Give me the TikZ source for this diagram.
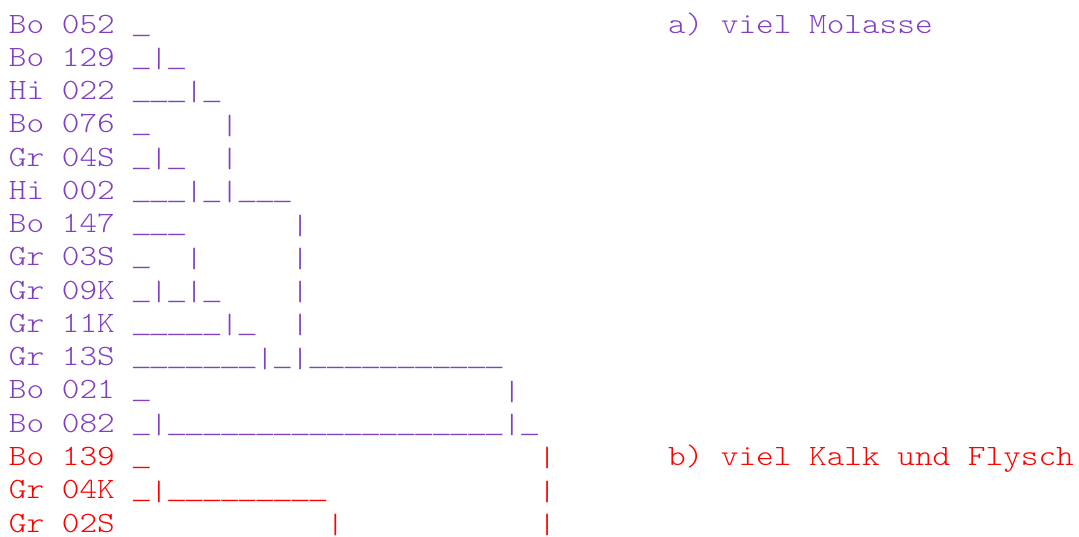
\documentclass[tikz,border=0pt]{standalone}
\usepackage{fontspec}
\usepackage{graphicx}
\newfontfamily\typew[FakeStretch=1.141]{lmmonolt10-regular.otf}
\newfontfamily\linefont{Liberation Mono}
% tree strokes: underscore and bar, each centred in one character cell
\newcommand\us{\hbox to \fontdimen2\font{\hss{\linefont\scalebox{0.94}[1]{\_}}\hss}}
\newcommand\br{\hbox to \fontdimen2\font{\hss\smash{\raisebox{-3.8pt}{%
  \resizebox*{\width}{21.8pt}{\raisebox{\depth}{|}}}}\hss}}
\ExplSyntaxOn
\NewDocumentCommand\gapn{m}{\prg_replicate:nn{#1}{\nobreakspace}}
\NewDocumentCommand\lown{m}{\prg_replicate:nn{#1}{\us}}
\ExplSyntaxOff
\definecolor{molasse}{RGB}{128,64,192}
\definecolor{kalk}{RGB}{255,0,0}
\tikzset{
  row/.style={anchor=base west, inner sep=0pt, outer sep=0pt,
    font=\typew\fontsize{29.46pt}{33.27pt}\selectfont\frenchspacing},
  grpa/.style={row, text=molasse},
  grpb/.style={row, text=kalk}
}
\begin{document}
\begin{tikzpicture}[x=1pt,y=1pt]
\path[use as bounding box] (0,0) rectangle (1079,-536);
% dendrogram rows, one text line each (line pitch 33.27)
\node[grpa] (r1)  at (9,-33.00)  {Bo~052~\us};
\node[grpa] (r2)  at (9,-66.27)  {Bo~129~\us\br\us};
\node[grpa] (r3)  at (9,-99.54)  {Hi~022~\lown{3}\br\us};
\node[grpa] (r4)  at (9,-132.81) {Bo~076~\us\gapn{4}\br};
\node[grpa] (r5)  at (9,-166.08) {Gr~04S~\us\br\us\gapn{2}\br};
\node[grpa] (r6)  at (9,-199.35) {Hi~002~\lown{3}\br\us\br\lown{3}};
\node[grpa] (r7)  at (9,-232.62) {Bo~147~\lown{3}\gapn{6}\br};
\node[grpa] (r8)  at (9,-265.89) {Gr~03S~\us\gapn{2}\br\gapn{5}\br};
\node[grpa] (r9)  at (9,-299.16) {Gr~09K~\us\br\us\br\us\gapn{4}\br};
\node[grpa] (r10) at (9,-332.43) {Gr~11K~\lown{5}\br\us\gapn{2}\br};
\node[grpa] (r11) at (9,-365.70) {Gr~13S~\lown{7}\br\us\br\lown{11}};
\node[grpa] (r12) at (9,-398.97) {Bo~021~\us\gapn{20}\br};
\node[grpa] (r13) at (9,-432.24) {Bo~082~\us\br\lown{19}\br\us};
\node[grpb] (r14) at (9,-465.51) {Bo~139~\us\gapn{22}\br};
\node[grpb] (r15) at (9,-498.78) {Gr~04K~\us\br\lown{9}\gapn{12}\br};
\node[grpb] (r16) at (9,-532.05) {Gr~02S~\gapn{11}\br\gapn{11}\br};
% group captions
\node[grpa] (capa) at (668,-33.00)  {a)~viel~Molasse};
\node[grpb] (capb) at (668,-465.51) {b)~viel~Kalk~und~Flysch};
\end{tikzpicture}
\end{document}
